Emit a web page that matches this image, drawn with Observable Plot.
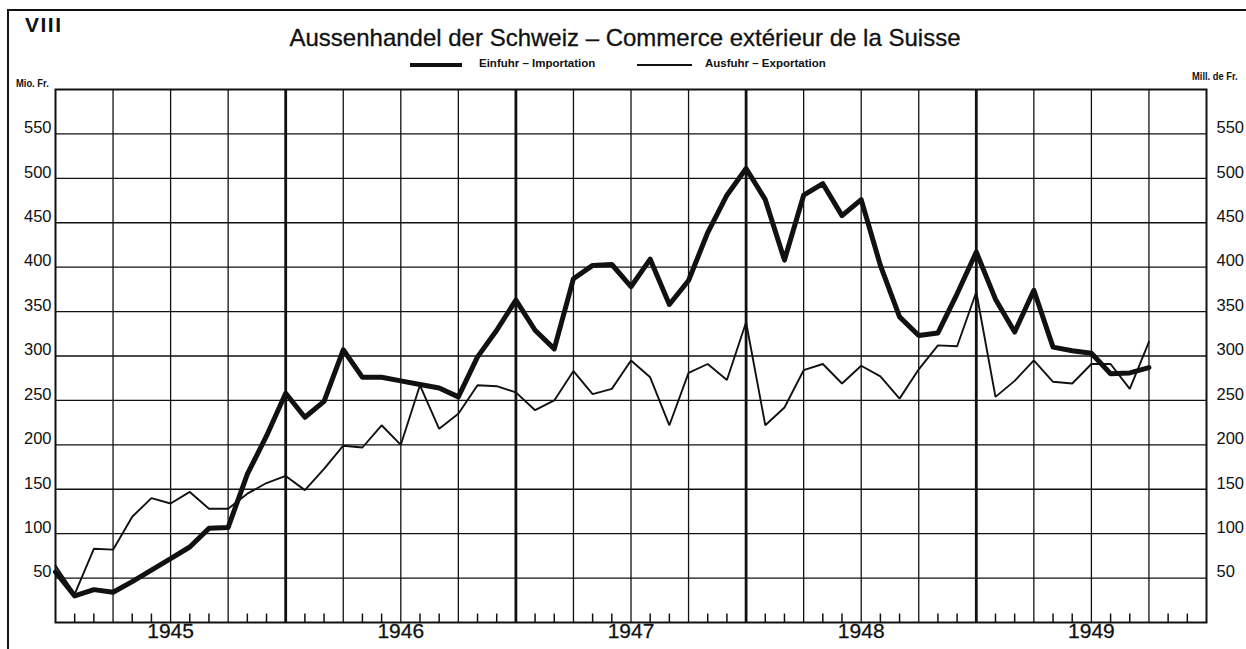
<!DOCTYPE html>
<html>
<head>
<meta charset="utf-8">
<script src="https://cdn.jsdelivr.net/npm/d3@7"></script>
<script src="https://cdn.jsdelivr.net/npm/@observablehq/plot@0.6"></script>
<style>
  body { margin: 0; background: #fff; }
  #wrap { position: relative; width: 1246px; height: 649px; overflow: hidden; background: #fff;
          font-family: "Liberation Sans", Arial, sans-serif; color: #111; }
  #wrap > div { position: absolute; line-height: 1; white-space: nowrap; }
  #border { left: 7px; top: 9px; width: 1400px; height: 800px; border-left: 2px solid #111; border-top: 2px solid #111; }
  #num { left: 25px; top: 14px; font-size: 21px; font-weight: bold; letter-spacing: 1.5px; }
  #title { left: 0; width: 1250px; text-align: center; top: 26px; font-size: 24px; -webkit-text-stroke: 0.3px #111; }
  .leg { top: 58px; font-size: 11.5px; font-weight: bold; }
  .sw { background: #111; }
  .unit { font-size: 11px; font-weight: bold; transform: scaleX(0.85); transform-origin: left top; }
  #chart { left: 0; top: 0; }
</style>
</head>
<body>
<div id="wrap">
  <div id="chart"></div>
  <div id="border"></div>
  <div id="num">VIII</div>
  <div id="title">Aussenhandel der Schweiz – Commerce extérieur de la Suisse</div>
  <div class="sw" style="left:410px;top:63px;width:52px;height:4px;"></div>
  <div class="leg" style="left:479px;">Einfuhr – Importation</div>
  <div class="sw" style="left:637px;top:64px;width:55px;height:1.6px;"></div>
  <div class="leg" style="left:705px;">Ausfuhr – Exportation</div>
  <div class="unit" style="left:16px;top:78px;">Mio. Fr.</div>
  <div class="unit" style="left:1192px;top:71px;">Mill. de Fr.</div>
</div>
<script>
// Monthly values, January 1945 – October 1949 (million Swiss francs)
const importsEinfuhr = [
  57, 30, 37, 34, 46, 59, 72, 85, 106, 107, 167, 210,
  258, 231, 249, 307, 276, 276, 272, 268, 264, 254, 299, 329,
  363, 329, 308, 387, 402, 403, 378, 409, 358, 385, 439, 481,
  511, 476, 408, 481, 494, 458, 476, 402, 344, 323, 326, 370,
  417, 364, 327, 374, 310, 306, 303, 280, 281, 287
];
const exportsAusfuhr = [
  64, 32, 83, 82, 119, 140, 134, 147, 128, 128, 145, 157,
  165, 149, 173, 199, 197, 222, 200, 267, 218, 235, 267, 266,
  259, 239, 250, 283, 257, 263, 295, 276, 222, 281, 291, 273,
  338, 222, 242, 284, 291, 269, 289, 277, 252, 285, 312, 311,
  372, 254, 272, 295, 271, 269, 291, 291, 263, 316
];
const yearLabels = ["1945", "1946", "1947", "1948", "1949"];
const yTickValues = [50, 100, 150, 200, 250, 300, 350, 400, 450, 500, 550];

const nMonths = yearLabels.length * 12;
const monthIdx = d3.range(0, nMonths + 1);
const yearLines = monthIdx.filter(m => m % 12 === 0 && m > 0 && m < nMonths);
const quarterLines = monthIdx.filter(m => m % 3 === 0 && m % 12 !== 0);
const monthTicks = monthIdx.filter(m => m % 3 !== 0);

const ink = "#111";
const chart = Plot.plot({
  width: 1246,
  height: 649,
  marginLeft: 55,
  marginRight: 40,
  marginTop: 89,
  marginBottom: 27,
  style: { fontFamily: "'Liberation Sans', Arial, sans-serif", background: "white", color: ink },
  x: { domain: [0, nMonths], axis: null },
  y: { domain: [0, 600], axis: null },
  marks: [
    Plot.ruleY(yTickValues, { stroke: ink, strokeWidth: 1.3 }),
    Plot.ruleX(quarterLines, { stroke: ink, strokeWidth: 1.3 }),
    Plot.ruleX(yearLines, { stroke: ink, strokeWidth: 2.8 }),
    Plot.ruleX(monthTicks, { x: d => d, y1: 0, y2: 9.5, stroke: ink, strokeWidth: 1.5 }),
    Plot.frame({ stroke: ink, strokeWidth: 2 }),
    Plot.line(exportsAusfuhr, { x: (d, i) => i, y: d => d, stroke: ink, strokeWidth: 1.9, strokeLinejoin: "miter" }),
    Plot.line(importsEinfuhr, { x: (d, i) => i, y: d => d, stroke: ink, strokeWidth: 5, strokeLinejoin: "round" }),
    Plot.text(yTickValues, { y: d => d, text: d => String(d), frameAnchor: "left", textAnchor: "end", dx: -4, dy: -6, fontSize: 16.5, fill: ink }),
    Plot.text(yTickValues, { y: d => d, text: d => String(d), frameAnchor: "right", textAnchor: "start", dx: 10, dy: -6, fontSize: 16.5, fill: ink }),
    Plot.text(yearLabels, { x: (d, i) => i * 12 + 6, text: d => d, frameAnchor: "bottom", dy: 15, fontSize: 21, fill: ink, stroke: ink, strokeWidth: 0.3 })
  ]
});
document.getElementById("chart").appendChild(chart);
</script>
</body>
</html>
